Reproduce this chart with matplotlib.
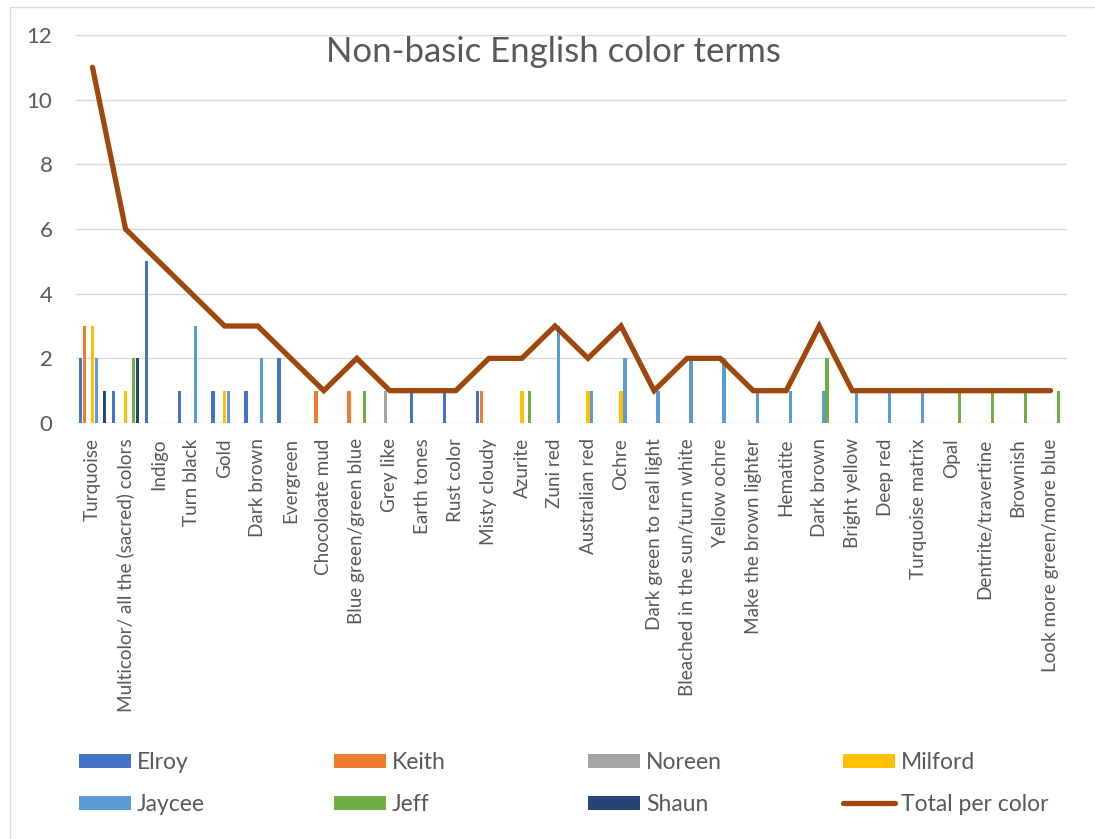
import matplotlib.pyplot as plt
import numpy as np

plt.rcParams['font.family'] = ['Lato', 'DejaVu Sans']

# categories (x axis)
categories = ["Turquoise", "Multicolor/ all the (sacred) colors", "Indigo", "Turn black",
              "Gold", "Dark brown", "Evergreen", "Chocoloate mud", "Blue green/green blue",
              "Grey like", "Earth tones", "Rust color", "Misty cloudy", "Azurite",
              "Zuni red", "Australian red", "Ochre", "Dark green to real light",
              "Bleached in the sun/turn white", "Yellow ochre", "Make the brown lighter",
              "Hematite", "Dark brown", "Bright yellow", "Deep red", "Turquoise matrix",
              "Opal", "Dentrite/travertine", "Brownish", "Look more green/more blue"]

# counts per person
elroy   = [2, 1, 5, 1, 1, 1, 2, 0, 0, 0, 1, 1, 1, 0, 0, 0, 0, 0, 0, 0, 0, 0, 0, 0, 0, 0, 0, 0, 0, 0]
keith   = [3, 0, 0, 0, 0, 0, 0, 1, 1, 0, 0, 0, 1, 0, 0, 0, 0, 0, 0, 0, 0, 0, 0, 0, 0, 0, 0, 0, 0, 0]
noreen  = [0, 0, 0, 0, 0, 0, 0, 0, 0, 1, 0, 0, 0, 0, 0, 0, 0, 0, 0, 0, 0, 0, 0, 0, 0, 0, 0, 0, 0, 0]
milford = [3, 1, 0, 0, 1, 0, 0, 0, 0, 0, 0, 0, 0, 1, 0, 1, 1, 0, 0, 0, 0, 0, 0, 0, 0, 0, 0, 0, 0, 0]
jaycee  = [2, 0, 0, 3, 1, 2, 0, 0, 0, 0, 0, 0, 0, 0, 3, 1, 2, 1, 2, 2, 1, 1, 1, 1, 1, 1, 0, 0, 0, 0]
jeff    = [0, 2, 0, 0, 0, 0, 0, 0, 1, 0, 0, 0, 0, 1, 0, 0, 0, 0, 0, 0, 0, 0, 2, 0, 0, 0, 1, 1, 1, 1]
shaun   = [1, 2, 0, 0, 0, 0, 0, 0, 0, 0, 0, 0, 0, 0, 0, 0, 0, 0, 0, 0, 0, 0, 0, 0, 0, 0, 0, 0, 0, 0]
total   = [11, 6, 5, 4, 3, 3, 2, 1, 2, 1, 1, 1, 2, 2, 3, 2, 3, 1, 2, 2, 1, 1, 3, 1, 1, 1, 1, 1, 1, 1]

names = ["Elroy", "Keith", "Noreen", "Milford", "Jaycee", "Jeff", "Shaun"]
series = [elroy, keith, noreen, milford, jaycee, jeff, shaun]
colors = ["#4472C4", "#ED7D31", "#A5A5A5", "#FFC000", "#5B9BD5", "#70AD47", "#264478"]
line_color = "#9E480E"
text_color = "#595959"

fig = plt.figure(figsize=(10.95, 8.39), dpi=100)
ax = fig.add_axes([76 / 1095, 1 - 423 / 839, (1067 - 76) / 1095, (423 - 35) / 839])

x = np.arange(len(categories))
step = 0.118
handles = []
for i, (name, vals, c) in enumerate(zip(names, series, colors)):
    h = ax.bar(x + (i - 3) * step, vals, width=0.095, color=c, label=name, zorder=2)
    handles.append(h)
ln, = ax.plot(x, total, color=line_color, lw=3.8, solid_capstyle='round',
              solid_joinstyle='miter', label="Total per color", zorder=3)
handles.append(ln)

ax.set_xlim(-0.5, len(categories) - 0.5)
ax.set_ylim(0, 12)
ax.set_yticks(range(0, 13, 2))
ax.grid(axis='y', color='#d9d9d9', lw=1, zorder=0)
for s in ['top', 'right', 'left', 'bottom']:
    ax.spines[s].set_visible(False)
ax.set_xticks(x)
ax.set_xticklabels(categories, rotation=90, va='top', ha='center')
ax.tick_params(axis='x', length=0, pad=11, labelsize=13.6, labelcolor=text_color)
ax.tick_params(axis='y', length=0, pad=17, labelsize=16, labelcolor=text_color)

fig.text(553 / 1095, 1 - 52 / 839, "Non-basic English color terms", ha='center', va='center',
         fontsize=25, color=text_color)

# legend: 4 columns, 2 rows, placed column by column
col_x = [79, 334, 588, 843]
labels = names + ["Total per color"]
for k in range(4):
    hs = [handles[k], handles[k + 4]]
    ls = [labels[k], labels[k + 4]]
    leg = fig.legend(hs, ls, loc='center left', bbox_to_anchor=(col_x[k] / 1095, 1 - 783.5 / 839),
                     frameon=False, fontsize=16.5, handlelength=2.27, handleheight=0.57,
                     handletextpad=0.26, labelspacing=0.92, borderpad=0, borderaxespad=0,
                     labelcolor=text_color)

# chart border
fig.patches.append(plt.Rectangle((10 / 1095, -0.01), 1.1, 1 - 7 / 839 + 0.01, transform=fig.transFigure,
                                 fill=False, edgecolor='#d9d9d9', lw=1))

fig.savefig("out.png", dpi=100)
